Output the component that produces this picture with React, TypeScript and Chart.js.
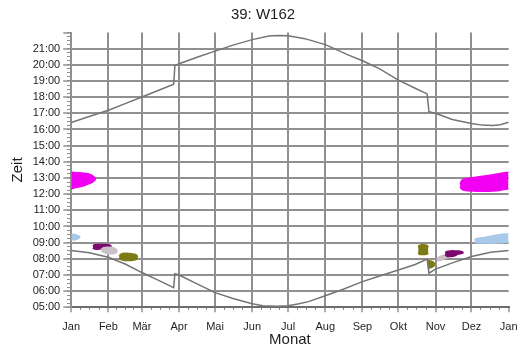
import React, { useEffect, useRef } from 'react';
import { Chart, registerables } from 'chart.js';

Chart.register(...registerables);

// ---- axis categories / ticks ----
const MONTH_STARTS = [0, 31, 59, 90, 120, 151, 181, 212, 243, 273, 304, 334, 365];
const MONTH_LABELS = ['Jan', 'Feb', 'Mär', 'Apr', 'Mai', 'Jun', 'Jul', 'Aug', 'Sep', 'Okt', 'Nov', 'Dez', 'Jan'];
const HOUR_TICKS = [5, 6, 7, 8, 9, 10, 11, 12, 13, 14, 15, 16, 17, 18, 19, 20, 21, 22];

// ---- sunset (upper grey line) ----
const SUNSET_DAYS = [0, 15, 31, 45, 59, 72, 85.5, 86.5, 90, 105, 120, 135, 151, 165, 172, 181, 195, 212, 219, 230, 243, 257, 273, 287, 297, 298.5, 304, 318, 334, 343, 352, 358, 365];
const SUNSET_HOURS = [16.43, 16.8, 17.19, 17.6, 18.01, 18.4, 18.8, 19.95, 20.07, 20.47, 20.85, 21.22, 21.56, 21.78, 21.82, 21.8, 21.62, 21.25, 21.02, 20.65, 20.25, 19.77, 19.05, 18.55, 18.2, 17.1, 17.0, 16.62, 16.37, 16.27, 16.25, 16.3, 16.45];

// ---- sunrise (lower grey line) ----
const SUNRISE_DAYS = [0, 15, 31, 45, 59, 72, 85.5, 86.5, 90, 105, 120, 135, 151, 160, 172, 181, 190, 198, 212, 227, 243, 258, 273, 287, 297, 298.5, 304, 318, 334, 350, 365];
const SUNRISE_HOURS = [8.51, 8.38, 8.1, 7.68, 7.15, 6.7, 6.22, 7.08, 7.0, 6.45, 5.91, 5.55, 5.22, 5.1, 5.07, 5.09, 5.22, 5.35, 5.71, 6.12, 6.59, 6.95, 7.31, 7.65, 7.98, 7.11, 7.36, 7.75, 8.14, 8.4, 8.51];

// ---- shadow periods (start / end times per day) ----
const MAGENTA_JAN_DAYS = [0, 3, 7, 11, 14, 17, 19, 20.5];
const MAGENTA_JAN_END = [13.36, 13.34, 13.32, 13.3, 13.26, 13.17, 13.06, 12.93];
const MAGENTA_JAN_START = [12.33, 12.4, 12.46, 12.54, 12.62, 12.72, 12.82, 12.93];

const MAGENTA_DEC_DAYS = [324.5, 326, 329, 335, 343, 352, 358, 365];
const MAGENTA_DEC_END = [12.62, 12.85, 12.95, 13.02, 13.1, 13.2, 13.28, 13.36];
const MAGENTA_DEC_START = [12.45, 12.3, 12.22, 12.19, 12.18, 12.2, 12.24, 12.33];

const BLUE_JAN_DAYS = [0, 2, 4, 6, 7.5];
const BLUE_JAN_END = [9.5, 9.52, 9.48, 9.42, 9.35];
const BLUE_JAN_START = [9.2, 9.16, 9.19, 9.26, 9.33];

const BLUE_DEC_DAYS = [336.5, 338, 345, 352, 358, 365];
const BLUE_DEC_END = [9.15, 9.25, 9.32, 9.42, 9.5, 9.54];
const BLUE_DEC_START = [9.03, 8.99, 8.98, 8.98, 9.0, 9.02];

const PURPLE_JAN_DAYS = [18, 19.5, 23, 27, 31, 33.5];
const PURPLE_JAN_END = [8.8, 8.87, 8.88, 8.88, 8.87, 8.8];
const PURPLE_JAN_START = [8.68, 8.6, 8.6, 8.63, 8.7, 8.78];

const GREY_JAN_DAYS = [25, 27, 30, 34, 37, 38.5];
const GREY_JAN_END = [8.58, 8.68, 8.72, 8.7, 8.62, 8.5];
const GREY_JAN_START = [8.5, 8.4, 8.33, 8.32, 8.36, 8.45];

const OLIVE_FEB_DAYS = [40, 41.5, 45, 50, 54, 55.5];
const OLIVE_FEB_END = [8.15, 8.28, 8.34, 8.32, 8.25, 8.12];
const OLIVE_FEB_START = [8.05, 7.95, 7.9, 7.9, 7.96, 8.06];

const OLIVE_OCT_DAYS = [289.5, 290.5, 293, 296.5, 298];
const OLIVE_OCT_END = [8.7, 8.83, 8.87, 8.84, 8.72];
const OLIVE_OCT_START = [8.38, 8.28, 8.26, 8.28, 8.36];

const OLIVE_NOV_DAYS = [297.5, 299, 301.5, 303.5];
const OLIVE_NOV_END = [7.88, 7.88, 7.82, 7.7];
const OLIVE_NOV_START = [7.45, 7.43, 7.5, 7.62];

const GREY_NOV_DAYS = [305, 307, 310, 313, 316, 317.5];
const GREY_NOV_END = [7.98, 8.1, 8.2, 8.28, 8.3, 8.25];
const GREY_NOV_START = [7.9, 7.9, 7.96, 8.05, 8.15, 8.2];

const PURPLE_NOV_DAYS = [312, 313.5, 317, 320, 323, 325.5, 327.3];
const PURPLE_NOV_END = [8.38, 8.46, 8.49, 8.49, 8.48, 8.45, 8.4];
const PURPLE_NOV_START = [8.25, 8.16, 8.14, 8.18, 8.3, 8.33, 8.37];

// ---- styles ----
const FONT = "'Liberation Sans', Arial, sans-serif";
const GRID = '#909090';
const SUN_LINE = '#747474';
const MAGENTA = '#f200f2';
const LIGHT_BLUE = '#a9c9ea';
const PURPLE = '#7c0870';
const LIGHT_GREY = '#cac0c8';
const OLIVE = '#7d7b14';
const TEXT = '#1e1e1e';
const TRANSPARENT = 'rgba(0,0,0,0)';

const CANVAS_W = 526;
const CANVAS_H = 352;

function pad2(n: number) {
  return (n < 10 ? '0' : '') + n;
}

function pts(xs: number[], ys: number[]) {
  return xs.map((x, i) => ({ x, y: ys[i] }));
}

export default function App() {
  const ref = useRef<HTMLCanvasElement>(null);

  useEffect(() => {
    const canvas = ref.current;
    if (!canvas) return;

    const datasets: any[] = [
      {
        label: 'Sonnenuntergang',
        data: pts(SUNSET_DAYS, SUNSET_HOURS),
        borderColor: SUN_LINE,
        borderWidth: 1.5,
        pointRadius: 0,
        fill: false,
        tension: 0,
        order: 0,
      },
      {
        label: 'Sonnenaufgang',
        data: pts(SUNRISE_DAYS, SUNRISE_HOURS),
        borderColor: SUN_LINE,
        borderWidth: 1.5,
        pointRadius: 0,
        fill: false,
        tension: 0,
        order: 0,
      },
    ];

    const blobs = [
      { color: MAGENTA, days: MAGENTA_JAN_DAYS, s: MAGENTA_JAN_START, e: MAGENTA_JAN_END, order: 3 },
      { color: MAGENTA, days: MAGENTA_DEC_DAYS, s: MAGENTA_DEC_START, e: MAGENTA_DEC_END, order: 3 },
      { color: LIGHT_BLUE, days: BLUE_JAN_DAYS, s: BLUE_JAN_START, e: BLUE_JAN_END, order: 3 },
      { color: LIGHT_BLUE, days: BLUE_DEC_DAYS, s: BLUE_DEC_START, e: BLUE_DEC_END, order: 3 },
      { color: LIGHT_GREY, days: GREY_JAN_DAYS, s: GREY_JAN_START, e: GREY_JAN_END, order: 1 },
      { color: PURPLE, days: PURPLE_JAN_DAYS, s: PURPLE_JAN_START, e: PURPLE_JAN_END, order: 2 },
      { color: LIGHT_GREY, days: GREY_NOV_DAYS, s: GREY_NOV_START, e: GREY_NOV_END, order: 2 },
      { color: PURPLE, days: PURPLE_NOV_DAYS, s: PURPLE_NOV_START, e: PURPLE_NOV_END, order: 1 },
      { color: OLIVE, days: OLIVE_FEB_DAYS, s: OLIVE_FEB_START, e: OLIVE_FEB_END, order: 3 },
      { color: OLIVE, days: OLIVE_OCT_DAYS, s: OLIVE_OCT_START, e: OLIVE_OCT_END, order: 3 },
      { color: OLIVE, days: OLIVE_NOV_DAYS, s: OLIVE_NOV_START, e: OLIVE_NOV_END, order: 3 },
    ];

    blobs.forEach((b) => {
      datasets.push({
        data: pts(b.days, b.s),
        borderColor: b.color,
        backgroundColor: b.color,
        borderWidth: 1.5,
        pointRadius: 0,
        fill: false,
        tension: 0.3,
        order: b.order,
      });
      datasets.push({
        data: pts(b.days, b.e),
        borderColor: b.color,
        backgroundColor: b.color,
        borderWidth: 1.5,
        pointRadius: 0,
        fill: '-1',
        tension: 0.3,
        order: b.order,
      });
    });

    const minorX: number[] = [];
    for (let i = 0; i < MONTH_STARTS.length - 1; i++) {
      const a = MONTH_STARTS[i];
      const len = MONTH_STARTS[i + 1] - a;
      for (let k = 1; k < 4; k++) minorX.push(a + (len * k) / 4);
    }
    const minorY: number[] = [];
    for (let h = 5; h <= 22; h += 0.25) minorY.push(h);

    const chart = new Chart(canvas, {
      type: 'line',
      data: { datasets },
      options: {
        animation: false,
        responsive: false,
        devicePixelRatio: 1,
        parsing: false as any,
        normalized: true,
        layout: { padding: { left: 0, right: 0, top: 0, bottom: 0 } },
        plugins: {
          legend: { display: false },
          tooltip: { enabled: false },
          title: {
            display: true,
            text: '39: W162',
            color: TEXT,
            font: { family: FONT, size: 15, weight: 'normal' },
            padding: { top: 6, bottom: 8.5 },
          },
        },
        scales: {
          x: {
            type: 'linear',
            position: 'bottom',
            min: 0,
            max: 365,
            afterBuildTicks: (s: any) => {
              s.ticks = MONTH_STARTS.map((v) => ({ value: v }));
            },
            ticks: {
              autoSkip: false,
              maxRotation: 0,
              padding: 8.5,
              color: TEXT,
              font: { family: FONT, size: 11 },
              callback: (v: any) => {
                const i = MONTH_STARTS.indexOf(Number(v));
                return i >= 0 ? MONTH_LABELS[i] : '';
              },
            },
            grid: {
              color: (ctx: any) => (ctx.tick && ctx.tick.value === 365 ? TRANSPARENT : GRID),
              lineWidth: 2,
              tickLength: 5,
              tickColor: GRID,
              tickWidth: 1.5,
            },
            border: { display: true, color: '#6c6c6c', width: 2 },
            title: {
              display: true,
              text: 'Monat',
              color: TEXT,
              font: { family: FONT, size: 15 },
              padding: { top: -11.5, bottom: 3 },
            },
          },
          xMinor: {
            type: 'linear',
            axis: 'x',
            position: { y: 5 } as any,
            min: 0,
            max: 365,
            afterBuildTicks: (s: any) => {
              s.ticks = minorX.map((v) => ({ value: v }));
            },
            ticks: { display: false },
            grid: { drawOnChartArea: false, tickLength: 3, tickColor: GRID, tickWidth: 1 },
            border: { display: false },
          },
          y: {
            type: 'linear',
            position: 'left',
            min: 5,
            max: 22,
            afterBuildTicks: (s: any) => {
              s.ticks = HOUR_TICKS.map((v) => ({ value: v }));
            },
            ticks: {
              autoSkip: false,
              padding: 3,
              color: TEXT,
              font: { family: FONT, size: 11 },
              callback: (v: any) => (Number(v) === 22 ? '' : pad2(Number(v)) + ':00'),
            },
            grid: {
              color: (ctx: any) => (ctx.tick && ctx.tick.value === 22 ? TRANSPARENT : GRID),
              lineWidth: 2,
              tickLength: 8,
              tickColor: GRID,
              tickWidth: 1.5,
            },
            border: { display: true, color: GRID, width: 2 },
            title: {
              display: true,
              text: 'Zeit',
              color: TEXT,
              font: { family: FONT, size: 15 },
              padding: { top: 9, bottom: 2.7 },
            },
          },
          yMinor: {
            type: 'linear',
            axis: 'y',
            position: { x: 0 } as any,
            min: 5,
            max: 22,
            afterBuildTicks: (s: any) => {
              s.ticks = minorY.map((v) => ({ value: v }));
            },
            ticks: { display: false },
            grid: { drawOnChartArea: false, tickLength: 4, tickColor: GRID, tickWidth: 1 },
            border: { display: false },
          },
        },
      } as any,
    });

    return () => chart.destroy();
  }, []);

  return (
    <div
      style={{
        position: 'absolute',
        left: 0,
        top: 0,
        width: 517,
        height: 352,
        overflow: 'hidden',
        background: '#fff',
      }}
    >
      <canvas
        ref={ref}
        width={CANVAS_W}
        height={CANVAS_H}
        style={{ display: 'block', width: CANVAS_W, height: CANVAS_H }}
      />
    </div>
  );
}
